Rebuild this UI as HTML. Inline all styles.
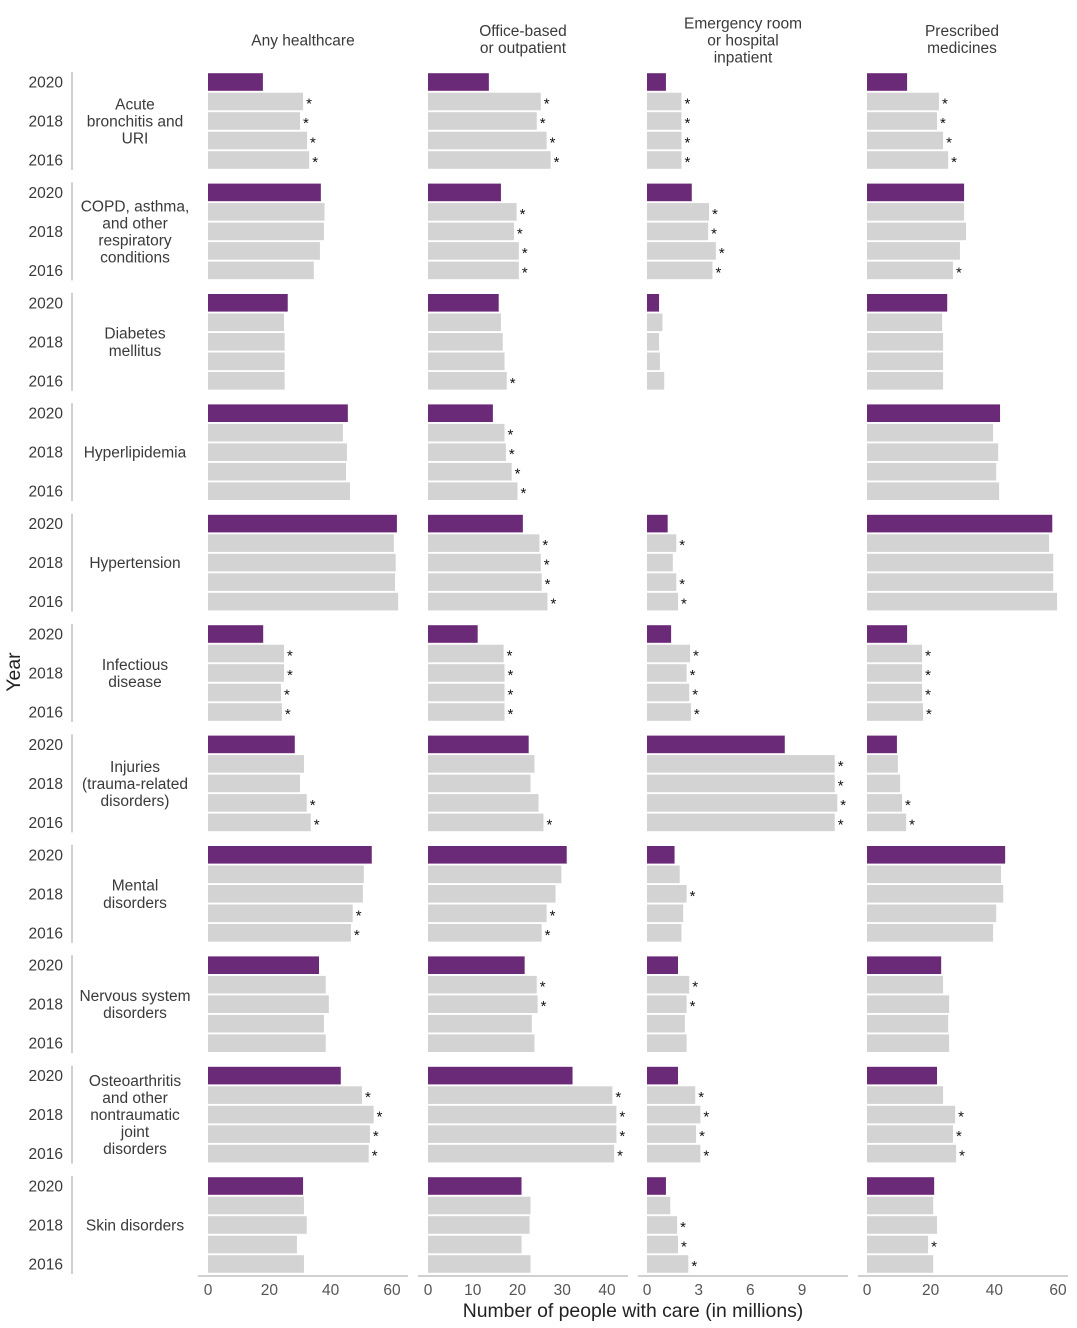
<!DOCTYPE html>
<html><head><meta charset="utf-8"><style>
body{margin:0;background:#fff}
svg{display:block;font-family:"Liberation Sans",sans-serif}
</style></head><body>
<svg id="chart" width="1077" height="1328" viewBox="0 0 1077 1328"></svg>
<script>
const categories=["Acute\nbronchitis and\nURI","COPD, asthma,\nand other\nrespiratory\nconditions","Diabetes\nmellitus","Hyperlipidemia","Hypertension","Infectious\ndisease","Injuries\n(trauma-related\ndisorders)","Mental\ndisorders","Nervous system\ndisorders","Osteoarthritis\nand other\nnontraumatic\njoint\ndisorders","Skin disorders"];
const years=[2020,2019,2018,2017,2016];
const panelTitles=["Any healthcare","Office-based\nor outpatient","Emergency room\nor hospital\ninpatient","Prescribed\nmedicines"];
const tickLabels=[[0,20,40,60],[0,10,20,30,40],[0,3,6,9],[0,20,40,60]];
const anyCare=[[17.9,31,30,32.3,33],[36.8,38,37.8,36.5,34.5],[26,24.8,25,25,25],[45.6,44,45.3,45,46.3],[61.6,60.6,61.2,61,62],[18,24.8,24.8,23.8,24.1],[28.3,31.3,30,32.2,33.5],[53.4,50.8,50.5,47.2,46.6],[36.2,38.4,39.4,37.8,38.4],[43.3,50.2,54,52.8,52.4],[31,31.3,32.2,29,31.3]];
const office=[[13.6,25.2,24.3,26.5,27.4],[16.3,19.8,19.2,20.3,20.3],[15.8,16.3,16.7,17.1,17.6],[14.5,17.1,17.4,18.7,20],[21.2,24.9,25.2,25.4,26.7],[11.1,16.9,17.1,17.1,17.1],[22.5,23.8,22.9,24.7,25.8],[31,29.8,28.5,26.5,25.4],[21.6,24.3,24.5,23.2,23.8],[32.3,41.2,42.1,42.1,41.6],[20.9,22.9,22.7,20.9,22.9]];
const erInpatient=[[1.1,2.0,2.0,2.0,2.0],[2.6,3.6,3.55,4.0,3.8],[0.7,0.9,0.7,0.75,1.0],null,[1.2,1.7,1.5,1.7,1.8],[1.4,2.5,2.3,2.45,2.55],[8.0,10.9,10.9,11.05,10.9],[1.6,1.9,2.3,2.1,2.0],[1.8,2.45,2.3,2.2,2.3],[1.8,2.8,3.1,2.85,3.1],[1.1,1.35,1.75,1.8,2.4]];
const medicines=[[12.6,22.6,22,23.9,25.5],[30.5,30.5,31.1,29.2,27],[25.2,23.6,23.9,23.9,23.9],[41.8,39.6,41.2,40.6,41.5],[58.2,57.2,58.5,58.5,59.7],[12.6,17.3,17.3,17.3,17.6],[9.4,9.7,10.4,11,12.3],[43.4,42.1,42.8,40.6,39.6],[23.3,23.9,25.8,25.5,25.8],[22,23.9,27.7,27,28],[21.1,20.8,22,19.2,20.8]];
const starsAny=["01111","00000","00000","00000","00000","01111","00011","00011","00000","01111","00000"];
const starsOffice=["01111","01111","00001","01111","01111","01111","00001","00011","01100","01111","00000"];
const starsEr=["01111","01111","00000","00000","01011","01111","01111","00100","01100","01111","00111"];
const starsMed=["01111","00001","00000","00000","00000","01111","00011","00000","00000","00111","00010"];

const NS="http://www.w3.org/2000/svg";
const svg=document.getElementById('chart');
function mk(tag,attrs,parent){const e=document.createElementNS(NS,tag);for(const k in attrs)e.setAttribute(k,attrs[k]);(parent||svg).appendChild(e);return e;}
const panels=[{x0:208,pxMax:392,max:60,data:anyCare,stars:starsAny,axL:198,axR:408},
{x0:428,pxMax:607,max:40,data:office,stars:starsOffice,axL:418,axR:628},
{x0:647,pxMax:802,max:9,data:erInpatient,stars:starsEr,axL:638,axR:848},
{x0:867,pxMax:1058,max:60,data:medicines,stars:starsMed,axL:858,axR:1068}];
const txt="#3a3a3a";
const FS=15.5;
function yRow(g,i){return 82+g*110.4+i*19.5;}
function multiText(str,x,yc,size,name){
  const lines=str.split("\n");const lh=size*1.1;
  const t=mk('text',{x:x,'text-anchor':'middle','font-size':size,fill:txt});
  
  
  lines.forEach((l,k)=>{const s=mk('tspan',{x:x,y:yc-(lines.length-1)*lh/2+k*lh+size*0.35},t);s.textContent=l;});
  return t;
}
panelTitles.forEach((p,i)=>{const c=[303,523,743,962][i];multiText(p,c,[40,39,40,39][i],FS,'panel-title-'+(i+1));});
categories.forEach((cat,g)=>{
  const top=yRow(g,0)-10, bot=yRow(g,4)+10;
  const ln=mk('line',{x1:72,x2:72,y1:top,y2:bot,stroke:'#d0d0d0','stroke-width':2});
  
  
  [0,2,4].forEach(i=>{const t=mk('text',{x:63,y:yRow(g,i)+5.5,'text-anchor':'end','font-size':FS,fill:txt});t.textContent=years[i];
    
    });
  multiText(cat,135,(yRow(g,0)+yRow(g,4))/2,FS,'category-label');
  panels.forEach((p,pi)=>{
    const vals=p.data[g]; if(!vals) return;
    const sc=v=>(v/p.max)*(p.pxMax-p.x0);
    vals.forEach((v,i)=>{
      const w=sc(v);
      const r=mk('rect',{x:p.x0,y:yRow(g,i)-8.8,width:w,height:17.6,fill:i===0?'#6b2a78':'#d3d3d3'});
      
      
      if(p.stars[g][i]==='1'){const s=mk('text',{x:p.x0+w+3,y:yRow(g,i)+7,'font-size':15,fill:'#111'});s.textContent='*';
        
        }
    });
  });
});
panels.forEach((p,pi)=>{
  const a=mk('line',{x1:p.axL,x2:p.axR,y1:1276,y2:1276,stroke:'#d0d0d0','stroke-width':2});
  
  
  tickLabels[pi].forEach(v=>{const t=mk('text',{x:p.x0+(v/p.max)*(p.pxMax-p.x0),y:1295,'text-anchor':'middle','font-size':FS,fill:'#555'});t.textContent=v;
    
    });
});
const xt=mk('text',{x:633,y:1317,'text-anchor':'middle','font-size':19.4,fill:'#222'});xt.textContent='Number of people with care (in millions)';


const yt=mk('text',{x:0,y:0,'text-anchor':'middle','font-size':19.4,fill:'#222',transform:'translate(20,672) rotate(-90)'});yt.textContent='Year';


</script>
</body></html>
